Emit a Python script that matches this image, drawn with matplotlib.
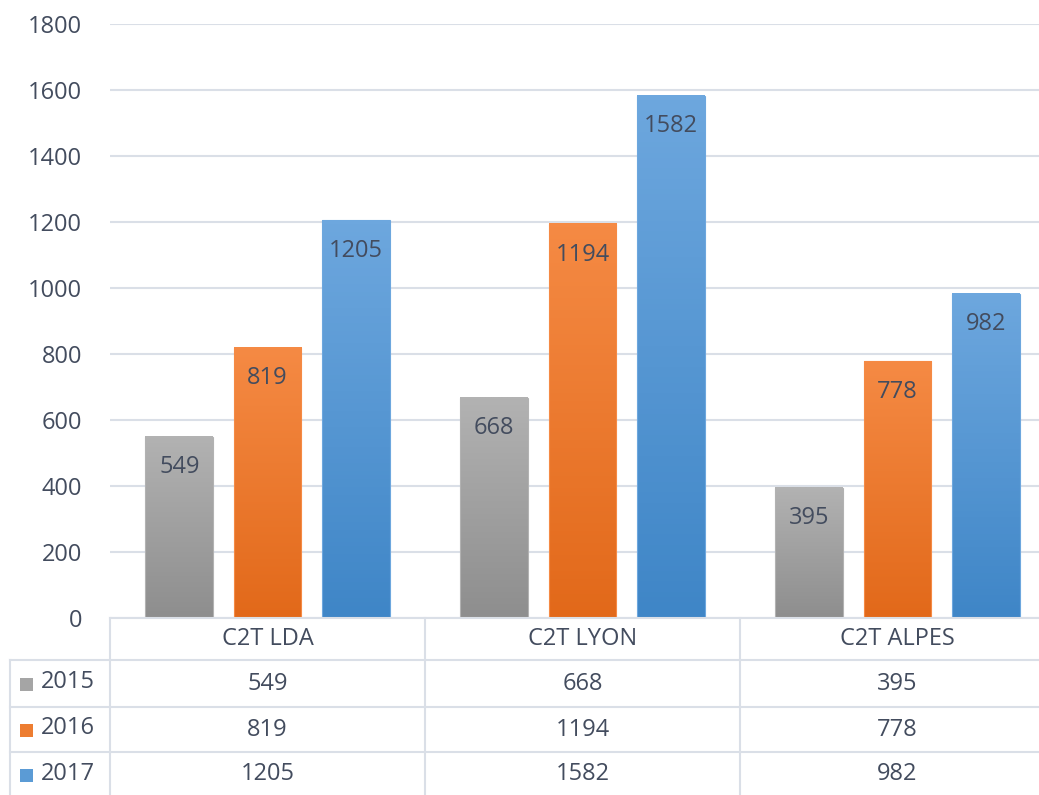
import numpy as np
import matplotlib.pyplot as plt
from matplotlib.colors import LinearSegmentedColormap
from matplotlib.patches import Rectangle

plt.rcParams['font.family'] = ['Open Sans', 'DejaVu Sans']

categories = ['C2T LDA', 'C2T LYON', 'C2T ALPES']
years = ['2015', '2016', '2017']
v2015 = [549, 668, 395]
v2016 = [819, 1194, 778]
v2017 = [1205, 1582, 982]
series = [v2015, v2016, v2017]

yticks = [0, 200, 400, 600, 800, 1000, 1200, 1400, 1600, 1800]

# gradient colours (top, bottom) and legend colour
grad = [('#b2b2b2', '#8e8e8e'), ('#f58a44', '#e2691a'), ('#6da7de', '#3f86c7')]
solid = ['#a5a5a5', '#ed7d31', '#5b9bd5']
txt = '#434c5e'
linec = '#dadfe7'
fs = 17

W, H = 1039, 795
fig = plt.figure(figsize=(W / 100, H / 100), dpi=100)

# plot area in pixels (right edge runs past the image, as in the reference)
px0, px1, py_top, py0 = 110, 1055, 24, 618
ax = fig.add_axes([px0 / W, (H - py0) / H, (px1 - px0) / W, (py0 - py_top) / H])

x = np.arange(len(categories))
bw = 0.215
step = 0.28
for i, vals in enumerate(series):
    cmap = LinearSegmentedColormap.from_list('g%d' % i, [grad[i][1], grad[i][0]])
    for j, v in enumerate(vals):
        xc = x[j] + (i - 1) * step
        ax.imshow(np.linspace(0, 1, 100).reshape(-1, 1), cmap=cmap, origin='lower',
                  extent=[xc - bw / 2, xc + bw / 2, 0, v], aspect='auto', zorder=2)
        r = Rectangle((xc - bw / 2, 0), bw, v, facecolor='none',
                      edgecolor=grad[i][0], lw=0.8, zorder=3)
        ax.add_patch(r)
        ax.annotate(str(v), (xc, v), xytext=(0, -22), textcoords='offset points',
                    ha='center', va='center', fontsize=fs, color=txt, zorder=4)

ax.set_xlim(-0.5, 2.5)
ax.set_ylim(0, 1800)
ax.set_yticks(yticks)
ax.set_xticks([])
ax.tick_params(axis='y', length=0, pad=20, labelsize=fs, labelcolor=txt)
ax.grid(axis='y', color=linec, lw=1.5, zorder=0)
ax.set_axisbelow(True)
for s in ax.spines.values():
    s.set_visible(False)

# data table drawn in pixel coordinates
tb = fig.add_axes([0, 0, 1, 1])
tb.set_xlim(0, W)
tb.set_ylim(H, 0)
tb.axis('off')
tb.patch.set_alpha(0)

col_w = (px1 - px0) / 3
row_y = [618, 660, 707, 752, 797]
for k, yy in enumerate(row_y[:-1]):
    xs = px0 if k == 0 else 10
    tb.plot([xs, W], [yy, yy], color=linec, lw=1.5)
tb.plot([10, 10], [660, H], color=linec, lw=1.5)
for c in range(3):
    xl = px0 + c * col_w
    tb.plot([xl, xl], [618, H], color=linec, lw=1.5)

for c, cat in enumerate(categories):
    xc = px0 + (c + 0.5) * col_w
    tb.text(xc, (row_y[0] + row_y[1]) / 2, cat, ha='center', va='center',
            fontsize=fs, color=txt)
    for i, vals in enumerate(series):
        tb.text(xc, (row_y[i + 1] + row_y[i + 2]) / 2, str(vals[c]), ha='center',
                va='center', fontsize=fs, color=txt)

for i, yr in enumerate(years):
    yc = (row_y[i + 1] + row_y[i + 2]) / 2
    tb.add_patch(Rectangle((20, yc - 6), 13, 13, facecolor=solid[i], edgecolor='none'))
    tb.text(41, yc - 1, yr, ha='left', va='center', fontsize=fs, color=txt)

fig.savefig('out.png', dpi=100)
